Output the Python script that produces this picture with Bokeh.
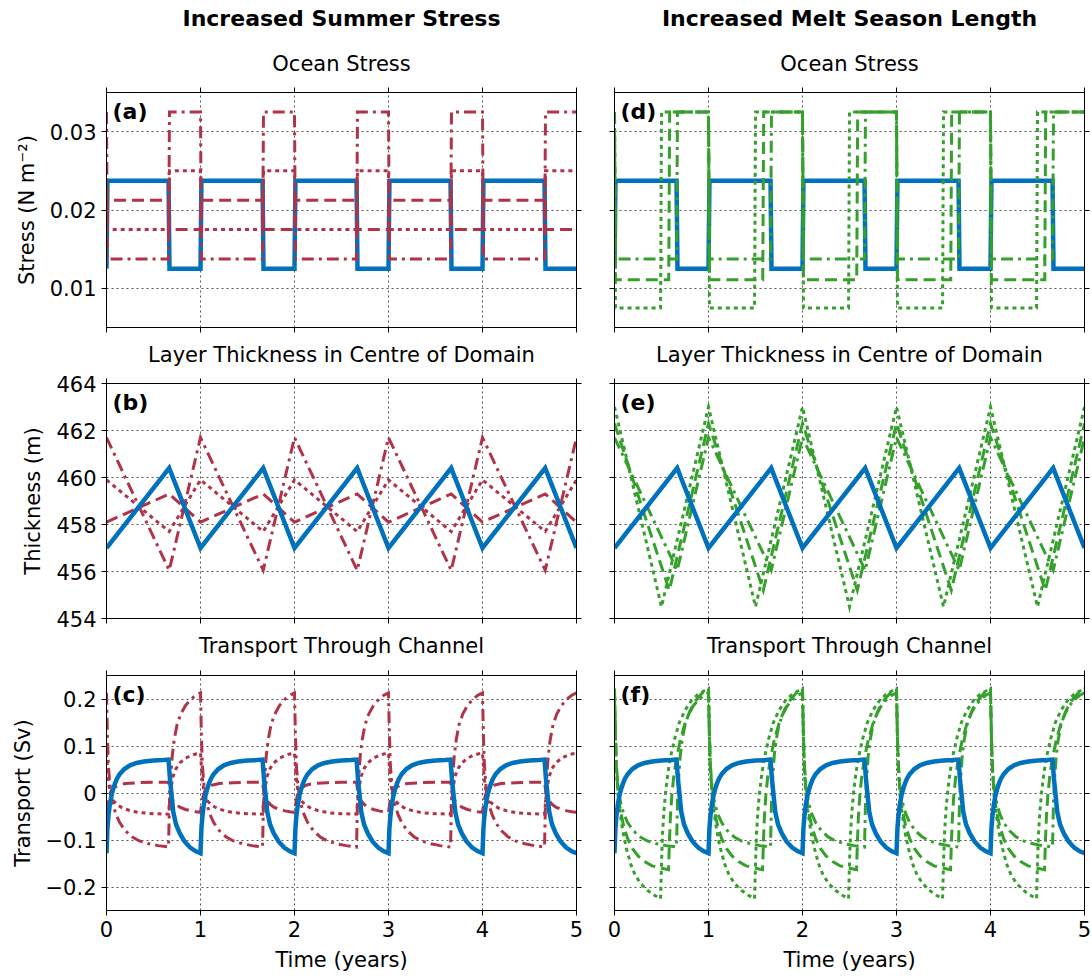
import numpy as np
from bokeh.plotting import figure
from bokeh.layouts import gridplot
from bokeh.models import Range1d, LinearAxis, FixedTicker, CustomJSTickFormatter, Label
from bokeh.embed import file_html
from bokeh.resources import INLINE

N_YEARS = 5
x_ticks = [0, 1, 2, 3, 4, 5]
x_grid = [1, 2, 3, 4]

stress_ticks = [0.01, 0.02, 0.03]
thick_ticks = [454, 456, 458, 460, 462, 464]
thick_grid = [456, 458, 460, 462]
trans_ticks = [-0.2, -0.1, 0.0, 0.1, 0.2]

col_titles = ["Increased Summer Stress", "Increased Melt Season Length"]
row_titles = ["Ocean Stress", "Layer Thickness in Centre of Domain", "Transport Through Channel"]
y_labels = ["Stress (N m\u207b\u00b2)", "Thickness (m)", "Transport (Sv)"]
panel_tags = [["(a)", "(b)", "(c)"], ["(d)", "(e)", "(f)"]]

# ---- Ocean stress, one annual cycle (time in years, N m^-2) ----
stress_t_4mo = [0.0, 0.01, 0.66, 0.67]
stress_t_5mo = [0.0, 0.01, 0.577, 0.587]
stress_t_6mo = [0.0, 0.01, 0.49, 0.50]
stress_control = [0.0125, 0.02375, 0.02375, 0.0125]
stress_sum_dash = [0.0175, 0.02125, 0.02125, 0.0175]
stress_sum_dot = [0.025, 0.0175, 0.0175, 0.025]
stress_sum_dashdot = [0.0325, 0.01375, 0.01375, 0.0325]
stress_len_dashdot = [0.0325, 0.01375, 0.01375, 0.0325]
stress_len_dash = [0.0325, 0.0111, 0.0111, 0.0325]
stress_len_dot = [0.0325, 0.0075, 0.0075, 0.0325]

# ---- Layer thickness, one annual cycle (m) ----
thick_t_4mo = [0.0, 0.667]
thick_t_5mo = [0.0, 0.583]
thick_t_6mo = [0.0, 0.5]
thick_control = [457.0, 460.4]
thick_sum_dash = [458.1, 459.3]
thick_sum_dot = [459.9, 457.7]
thick_sum_dashdot = [461.7, 456.05]
thick_len_dashdot = [461.7, 456.05]
thick_len_dash = [462.3, 455.2]
thick_len_dot = [463.0, 454.5]

# ---- Transport, one annual cycle (Sv) ----
trans_t_control = [0.0, 0.01, 0.02, 0.035, 0.05, 0.07, 0.09, 0.11, 0.14, 0.19, 0.25, 0.32,
                   0.4, 0.5, 0.6, 0.66, 0.675, 0.69, 0.71, 0.74, 0.78, 0.83, 0.89, 0.95]
trans_control = [-0.128, -0.075, -0.05, -0.025, -0.008, 0.008, 0.02, 0.03, 0.04, 0.051, 0.059, 0.064,
                 0.067, 0.069, 0.07, 0.071, 0.03, 0.0, -0.04, -0.067, -0.086, -0.103, -0.116, -0.124]

trans_t_sum_dashdot = [0.0, 0.01, 0.02, 0.035, 0.05, 0.07, 0.1, 0.14, 0.2, 0.27, 0.35, 0.45,
                       0.55, 0.66, 0.67, 0.685, 0.7, 0.72, 0.75, 0.79, 0.84, 0.9, 0.95]
trans_sum_dashdot = [0.213, 0.12, 0.06, 0.02, -0.005, -0.025, -0.045, -0.063, -0.08, -0.093, -0.102, -0.108,
                     -0.112, -0.115, -0.02, 0.04, 0.08, 0.113, 0.145, 0.168, 0.186, 0.2, 0.208]

trans_t_sum_dot = [0.0, 0.015, 0.03, 0.05, 0.08, 0.12, 0.18, 0.26, 0.36, 0.5, 0.66, 0.675,
                   0.69, 0.71, 0.74, 0.78, 0.84, 0.9, 0.95]
trans_sum_dot = [0.085, 0.04, 0.012, -0.008, -0.018, -0.026, -0.033, -0.038, -0.042, -0.044, -0.045, -0.01,
                 0.015, 0.036, 0.052, 0.064, 0.074, 0.08, 0.083]

trans_t_sum_dash = [0.0, 0.015, 0.03, 0.05, 0.08, 0.13, 0.2, 0.35, 0.5, 0.66, 0.675, 0.69,
                    0.71, 0.74, 0.78, 0.84, 0.9, 0.95]
trans_sum_dash = [-0.041, -0.02, -0.005, 0.005, 0.012, 0.017, 0.02, 0.022, 0.023, 0.023, 0.0, -0.01,
                  -0.017, -0.024, -0.03, -0.035, -0.038, -0.04]

trans_t_len_dashdot = [0.0, 0.01, 0.02, 0.035, 0.05, 0.07, 0.1, 0.14, 0.2, 0.27, 0.35, 0.45,
                       0.55, 0.66, 0.67, 0.685, 0.7, 0.72, 0.75, 0.79, 0.84, 0.9, 0.95]
trans_len_dashdot = [0.213, 0.12, 0.06, 0.02, -0.005, -0.025, -0.045, -0.063, -0.08, -0.093, -0.102, -0.108,
                     -0.112, -0.115, -0.02, 0.04, 0.08, 0.113, 0.145, 0.168, 0.186, 0.2, 0.208]

trans_t_len_dash = [0.0, 0.01, 0.02, 0.035, 0.05, 0.07, 0.1, 0.14, 0.19, 0.25, 0.32, 0.4,
                    0.5, 0.575, 0.585, 0.595, 0.61, 0.63, 0.66, 0.7, 0.75, 0.81, 0.87, 0.93, 0.97]
trans_len_dash = [0.222, 0.12, 0.055, 0.01, -0.02, -0.045, -0.072, -0.097, -0.118, -0.134, -0.146, -0.155,
                  -0.16, -0.163, -0.1, -0.05, -0.005, 0.035, 0.075, 0.113, 0.148, 0.178, 0.198, 0.212, 0.218]

trans_t_len_dot = [0.0, 0.01, 0.02, 0.035, 0.05, 0.065, 0.08, 0.1, 0.13, 0.17, 0.22, 0.28, 0.35, 0.42,
                   0.49, 0.5, 0.51, 0.525, 0.545, 0.57, 0.6, 0.64, 0.69, 0.75, 0.82, 0.89, 0.95]
trans_len_dot = [0.222, 0.12, 0.05, 0.0, -0.03, -0.05, -0.07, -0.094, -0.12, -0.15, -0.175, -0.193, -0.207, -0.217,
                 -0.225, -0.15, -0.09, -0.04, 0.005, 0.045, 0.08, 0.115, 0.15, 0.176, 0.197, 0.21, 0.217]

# ---- styles / layout ----
FONT = "DejaVu Sans"
BLUE = "#0072BD"
RED = "#B03347"
GREEN = "#35A02C"
DASH = "12 6"
DOT = "4 4"
DASHDOT = "12 5 3 5"

FRAME_W, FRAME_H = 470, 235
COL_LEFT = [106, 28]
COL_RIGHT = [10, 8]
ROW_TOP = [8, 14, 8]
ROW_BOTTOM = [8, 14, 66]
TITLE_STRIP_H = [84, 34, 35]
SUB_RAISE = [29, 29, 30]   # px between sub-title centre and panel frame top
MAIN_FROM_TOP = 18         # px from page top to column title centre


def periodic(t_cycle, v_cycle):
    """Repeat one read-off annual cycle over the five plotted years."""
    tt = [ti + k for k in range(N_YEARS) for ti in t_cycle] + [float(N_YEARS)]
    vv = list(v_cycle) * N_YEARS + [v_cycle[0]]
    return tt, vv


def style_axis(ax, ticks, show_labels, label=None):
    ax.ticker = FixedTicker(ticks=ticks)
    ax.major_tick_out = 5
    ax.major_tick_in = 0
    ax.minor_tick_out = 0
    ax.minor_tick_in = 0
    ax.axis_line_color = "black"
    ax.major_tick_line_color = "black"
    if show_labels:
        ax.formatter = CustomJSTickFormatter(code=(
            "const v = Math.round(tick*10000)/10000;"
            "return (v < 0 ? '\\u2212' : '') + Math.abs(v).toString();"))
        ax.major_label_text_font = FONT
        ax.major_label_text_font_size = "21px"
        ax.major_label_text_color = "black"
        ax.major_label_standoff = 5
    else:
        ax.formatter = CustomJSTickFormatter(code="return '';")
        ax.major_label_text_font_size = "0px"
        ax.major_label_standoff = 0
    if label:
        ax.axis_label = label
        ax.axis_label_text_font = FONT
        ax.axis_label_text_font_size = "21px"
        ax.axis_label_text_font_style = "normal"
        ax.axis_label_text_color = "black"
        ax.axis_label_standoff = 8


Y_RANGES = [(0.005, 0.035), (454, 464), (-0.25, 0.25)]
Y_TICKS = [stress_ticks, thick_ticks, trans_ticks]
Y_GRIDS = [stress_ticks, thick_grid, trans_ticks]


def title_strip(col, row):
    w = COL_LEFT[col] + FRAME_W + COL_RIGHT[col]
    h = TITLE_STRIP_H[row]
    p = figure(width=w, height=h, x_range=Range1d(0, 5), y_range=Range1d(0, h),
               output_backend="svg", toolbar_location=None, title=None,
               x_axis_location=None, y_axis_location=None,
               min_border_left=0, min_border_right=0, min_border_top=0, min_border_bottom=0)
    p.outline_line_color = None
    p.grid.visible = False
    p.add_layout(Label(x=2.5, y=SUB_RAISE[row] - ROW_TOP[row], text=row_titles[row],
                       text_font=FONT, text_font_size="21px", text_align="center",
                       text_baseline="middle", text_color="black"))
    if row == 0:
        p.add_layout(Label(x=2.5, y=h - MAIN_FROM_TOP, text=col_titles[col], text_font=FONT,
                           text_font_size="22px", text_font_style="bold",
                           text_align="center", text_baseline="middle", text_color="black"))
    return p


def panel(col, row):
    ymin, ymax = Y_RANGES[row]
    p = figure(frame_width=FRAME_W, frame_height=FRAME_H,
               x_range=Range1d(0, 5), y_range=Range1d(ymin, ymax),
               output_backend="svg", toolbar_location=None, title=None,
               min_border_left=COL_LEFT[col], min_border_right=COL_RIGHT[col],
               min_border_top=ROW_TOP[row], min_border_bottom=ROW_BOTTOM[row])
    p.outline_line_color = "black"
    p.outline_line_width = 1
    style_axis(p.xaxis[0], x_ticks, row == 2, "Time (years)" if row == 2 else None)
    style_axis(p.yaxis[0], Y_TICKS[row], col == 0, y_labels[row] if col == 0 else None)
    p.xgrid.ticker = FixedTicker(ticks=x_grid)
    p.ygrid.ticker = FixedTicker(ticks=Y_GRIDS[row])
    for g in (p.xgrid[0], p.ygrid[0]):
        g.grid_line_color = "#555555"
        g.grid_line_dash = "2 3"
        g.grid_line_width = 1
    top_ax = LinearAxis()
    style_axis(top_ax, x_ticks, False)
    p.add_layout(top_ax, "above")
    right_ax = LinearAxis()
    style_axis(right_ax, Y_TICKS[row], False)
    p.add_layout(right_ax, "right")
    p.add_layout(Label(x=0, y=ymax, x_offset=6, y_offset=-6,
                       text=panel_tags[col][row], text_font=FONT, text_font_size="22px",
                       text_font_style="bold", text_baseline="top", text_align="left",
                       text_color="black"))
    return p


def add(p, t, v, color, dash, width=3.0):
    tt, vv = periodic(t, v)
    p.line(tt, vv, line_color=color, line_width=width, line_dash=dash, line_join="miter")


BLUE_W = 4.5
pa = panel(0, 0)
add(pa, stress_t_4mo, stress_control, BLUE, "solid", BLUE_W)
add(pa, stress_t_4mo, stress_sum_dash, RED, DASH)
add(pa, stress_t_4mo, stress_sum_dot, RED, DOT)
add(pa, stress_t_4mo, stress_sum_dashdot, RED, DASHDOT)

pb = panel(0, 1)
add(pb, thick_t_4mo, thick_sum_dash, RED, DASH)
add(pb, thick_t_4mo, thick_sum_dot, RED, DOT)
add(pb, thick_t_4mo, thick_sum_dashdot, RED, DASHDOT)
add(pb, thick_t_4mo, thick_control, BLUE, "solid", BLUE_W)

pc = panel(0, 2)
add(pc, trans_t_sum_dash, trans_sum_dash, RED, DASH)
add(pc, trans_t_sum_dot, trans_sum_dot, RED, DOT)
add(pc, trans_t_sum_dashdot, trans_sum_dashdot, RED, DASHDOT)
add(pc, trans_t_control, trans_control, BLUE, "solid", BLUE_W)

pd = panel(1, 0)
add(pd, stress_t_4mo, stress_control, BLUE, "solid", BLUE_W)
add(pd, stress_t_4mo, stress_len_dashdot, GREEN, DASHDOT)
add(pd, stress_t_5mo, stress_len_dash, GREEN, DASH)
add(pd, stress_t_6mo, stress_len_dot, GREEN, DOT)

pe = panel(1, 1)
add(pe, thick_t_4mo, thick_len_dashdot, GREEN, DASHDOT)
add(pe, thick_t_5mo, thick_len_dash, GREEN, DASH)
add(pe, thick_t_6mo, thick_len_dot, GREEN, DOT)
add(pe, thick_t_4mo, thick_control, BLUE, "solid", BLUE_W)

pf = panel(1, 2)
add(pf, trans_t_len_dashdot, trans_len_dashdot, GREEN, DASHDOT)
add(pf, trans_t_len_dash, trans_len_dash, GREEN, DASH)
add(pf, trans_t_len_dot, trans_len_dot, GREEN, DOT)
add(pf, trans_t_control, trans_control, BLUE, "solid", BLUE_W)

layout = gridplot([[title_strip(0, 0), title_strip(1, 0)],
                   [pa, pd],
                   [title_strip(0, 1), title_strip(1, 1)],
                   [pb, pe],
                   [title_strip(0, 2), title_strip(1, 2)],
                   [pc, pf]], toolbar_location=None)

with open("out.html", "w") as fh:
    fh.write(file_html(layout, INLINE))
